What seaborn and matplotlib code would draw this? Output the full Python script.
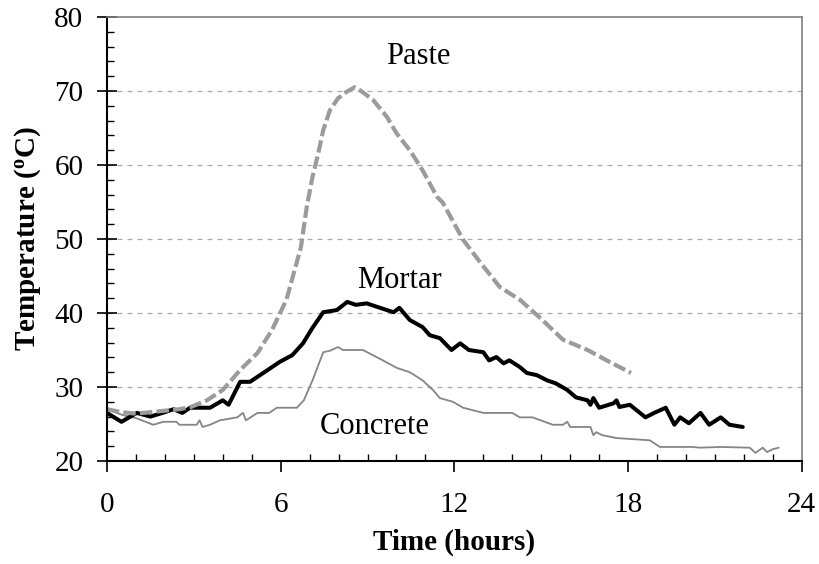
import matplotlib
matplotlib.use('Agg')
import matplotlib.pyplot as plt
import seaborn as sns
import pandas as pd
from matplotlib.ticker import MultipleLocator

# values
paste_t = [0, 0.5, 1.0, 1.5, 2.0, 2.5, 2.9, 3.45, 4.0, 4.6, 5.2, 5.7, 6.2, 6.7, 6.9, 7.1,
           7.3, 7.47, 7.7, 7.98, 8.28, 8.56, 8.74, 9.19, 9.67, 10.0, 10.46, 10.9, 11.4,
           11.6, 12.3, 12.9, 13.57, 14.26, 15.0, 15.75, 16.6, 17.26, 18.1]
paste_T = [27.0, 26.6, 26.4, 26.6, 26.8, 27.0, 27.3, 28.2, 29.6, 32.3, 34.6, 37.7, 41.8,
           48.9, 54.3, 58.4, 61.6, 64.7, 67.4, 69.0, 69.9, 70.5, 70.1, 68.8, 66.5, 64.3,
           62.0, 59.3, 55.7, 54.9, 49.9, 46.8, 43.5, 41.8, 39.2, 36.4, 35.0, 33.6, 31.9]

mortar_t = [0, 0.5, 1.03, 1.5, 2.0, 2.3, 2.6, 2.87, 3.56, 4.0, 4.2, 4.6, 4.94, 5.4, 5.97,
            6.4, 6.77, 7.1, 7.47, 7.94, 8.3, 8.6, 8.97, 9.43, 9.9, 10.1, 10.46, 10.9, 11.15,
            11.5, 11.9, 12.2, 12.5, 13.0, 13.2, 13.45, 13.7, 13.9, 14.26, 14.5, 14.85, 15.2,
            15.5, 15.9, 16.2, 16.6, 16.7, 16.8, 17.0, 17.5, 17.6, 17.7, 18.06, 18.6, 18.9,
            19.3, 19.6, 19.8, 20.1, 20.5, 20.8, 21.2, 21.5, 21.96]
mortar_T = [26.5, 25.3, 26.5, 26.0, 26.6, 27.0, 26.5, 27.2, 27.2, 28.2, 27.6, 30.7, 30.7,
            31.9, 33.4, 34.3, 35.9, 38.0, 40.1, 40.4, 41.5, 41.1, 41.3, 40.7, 40.1, 40.7,
            39.05, 38.1, 37.0, 36.6, 35.0, 35.9, 35.0, 34.7, 33.6, 34.05, 33.2, 33.6, 32.7,
            31.9, 31.6, 30.9, 30.5, 29.6, 28.6, 28.2, 27.6, 28.5, 27.2, 27.8, 28.2, 27.3,
            27.6, 25.9, 26.5, 27.2, 24.9, 25.9, 25.1, 26.5, 24.9, 25.9, 24.9, 24.6]

concrete_t = [0, 0.55, 1.0, 1.6, 1.95, 2.4, 2.5, 3.1, 3.2, 3.3, 3.56, 3.9, 4.5, 4.7, 4.8,
              5.2, 5.6, 5.87, 6.56, 6.8, 7.1, 7.47, 7.7, 7.98, 8.15, 8.84, 9.53, 10.0,
              10.46, 10.9, 11.26, 11.5, 11.95, 12.3, 13.0, 14.0, 14.26, 14.7, 15.4, 15.75,
              15.9, 16.0, 16.7, 16.8, 16.9, 17.1, 17.6, 18.75, 19.1, 20.2, 20.5, 21.2, 22.2,
              22.4, 22.65, 22.8, 23.0, 23.2]
concrete_T = [27.0, 26.2, 25.8, 24.9, 25.3, 25.3, 24.9, 24.9, 25.5, 24.6, 24.9, 25.5, 25.9,
              26.5, 25.5, 26.5, 26.5, 27.2, 27.2, 28.2, 30.9, 34.7, 34.9, 35.4, 35.0, 35.0,
              33.6, 32.6, 32.0, 30.9, 29.6, 28.5, 28.0, 27.2, 26.5, 26.5, 25.9, 25.9, 24.9,
              24.9, 25.3, 24.6, 24.6, 23.5, 23.9, 23.5, 23.1, 22.8, 21.9, 21.9, 21.8, 21.9,
              21.8, 21.1, 21.8, 21.2, 21.6, 21.8]

sns.set_style('white')
plt.rcParams['font.family'] = ['Liberation Serif', 'DejaVu Serif']
plt.rcParams['mathtext.fontset'] = 'custom'
plt.rcParams['mathtext.rm'] = 'Liberation Serif'
plt.rcParams['mathtext.bf'] = 'Liberation Serif:bold'
for k in ['text.color', 'axes.labelcolor', 'xtick.color', 'ytick.color']:
  plt.rcParams[k] = 'black'

fig = plt.figure(figsize=(8.19, 5.64), dpi=100)
ax = fig.add_axes([0.1306, 0.1826, 0.8484, 0.7873])

ax.set_xlim(0, 24)
ax.set_ylim(20, 80)
for y in range(30, 80, 10):
  ax.axhline(y, color='#aaaaaa', lw=0.9, ls=(0, (4, 4)), zorder=0)

df_c = pd.DataFrame({'t': concrete_t, 'T': concrete_T})
df_m = pd.DataFrame({'t': mortar_t, 'T': mortar_T})
df_p = pd.DataFrame({'t': paste_t, 'T': paste_T})

sns.lineplot(data=df_c, x='t', y='T', ax=ax, color='#858585', linewidth=1.3,
             sort=False, estimator=None)
sns.lineplot(data=df_m, x='t', y='T', ax=ax, color='black', linewidth=2.9,
             sort=False, estimator=None)
sns.lineplot(data=df_p, x='t', y='T', ax=ax, color='#9b9b9b', linewidth=3.0,
             sort=False, estimator=None)
ax.lines[-1].set_dashes((3, 1.0))

ax.text(10.75, 74.7, 'Paste', fontsize=22, ha='center', va='center')
ax.text(10.1, 44.4, 'Mortar', fontsize=22, ha='center', va='center')
ax.text(9.25, 24.6, 'Concrete', fontsize=22, ha='center', va='center')

ax.xaxis.set_major_locator(MultipleLocator(6))
ax.xaxis.set_minor_locator(MultipleLocator(1))
ax.yaxis.set_major_locator(MultipleLocator(10))
ax.yaxis.set_minor_locator(MultipleLocator(2))
ax.tick_params(axis='x', which='major', direction='out', length=8, width=1.2,
               labelsize=21, pad=14, bottom=True)
ax.tick_params(axis='x', which='minor', direction='in', length=5, width=1, bottom=True)
ax.tick_params(axis='y', which='major', direction='inout', length=14, width=1.2,
               labelsize=21, pad=10, left=True)
ax.tick_params(axis='y', which='minor', direction='in', length=5, width=1, left=True)

for s in ['left', 'bottom']:
  ax.spines[s].set_color('black')
  ax.spines[s].set_linewidth(1.5)
for s in ['top', 'right']:
  ax.spines[s].set_color('#808080')
  ax.spines[s].set_linewidth(1.2)

ax.set_xlabel('Time (hours)', fontsize=21, fontweight='bold', labelpad=8)
ax.set_ylabel(r'Temperature ($\mathbf{^o}$C)', fontsize=21, fontweight='bold', labelpad=8)

fig.savefig('out.png', dpi=100)
